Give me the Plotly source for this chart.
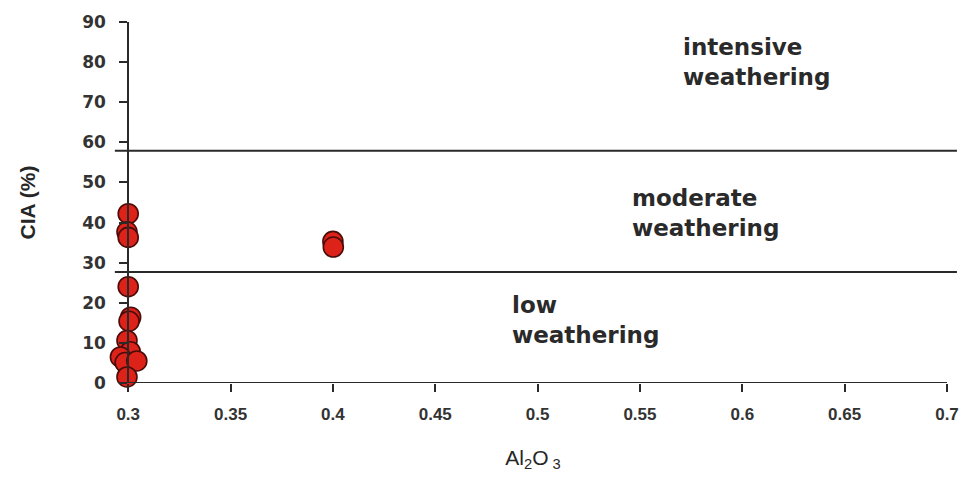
import plotly.graph_objects as go

# ---- data ----
al2o3 = [0.3000, 0.2994, 0.3000, 0.3000, 0.3012, 0.3004, 0.2994, 0.3010,
         0.2962, 0.2985, 0.3042, 0.2994, 0.4000, 0.4002]
cia = [42.2, 37.7, 36.3, 24.0, 16.4, 15.4, 10.6, 7.8,
       6.5, 5.1, 5.5, 1.5, 35.3, 33.9]

boundaries = [57.9, 27.7]
zone_labels = ["intensive<br>weathering", "moderate<br>weathering", "low<br>weathering"]
zone_x = [0.570, 0.545, 0.4865]
zone_y = [80.0, 42.3, 15.6]

x_ticks = [0.3, 0.35, 0.4, 0.45, 0.5, 0.55, 0.6, 0.65, 0.7]
x_ticktext = ["0.3", "0.35", "0.4", "0.45", "0.5", "0.55", "0.6", "0.65", "0.7"]
y_ticks = [0, 10, 20, 30, 40, 50, 60, 70, 80, 90]
x_axis_start = 0.3
x_range = [0.2955, 0.7]   # small left pad so markers sitting on the axis stay visible
y_range = [0, 90]

AX = "#2a2a2a"
yaxis_pos = (x_axis_start - x_range[0]) / (x_range[1] - x_range[0])

fig = go.Figure()
fig.add_trace(go.Scatter(
    x=al2o3, y=cia, mode="markers", cliponaxis=False,
    marker=dict(size=20, color="#dc2219", line=dict(color="#4a0c08", width=1.6)),
    showlegend=False,
))

# x axis baseline starting at the y axis
fig.add_shape(type="line", xref="x", yref="y", x0=x_axis_start, x1=x_range[1],
              y0=y_range[0], y1=y_range[0], line=dict(color=AX, width=2), layer="above")

for b in boundaries:
    fig.add_shape(type="line", xref="paper", yref="y",
                  x0=-0.005, x1=1.012, y0=b, y1=b,
                  line=dict(color=AX, width=2), layer="above")

for t, xx, yy in zip(zone_labels, zone_x, zone_y):
    fig.add_annotation(x=xx, y=yy, xref="x", yref="y", text=t, showarrow=False,
                       xanchor="left", yanchor="middle", align="left",
                       font=dict(family="DejaVu Sans", size=23, color="#2a2a2a", weight="bold"))

fig.update_layout(
    width=971, height=477,
    margin=dict(l=119, r=21, t=22, b=91),
    paper_bgcolor="white", plot_bgcolor="white",
    xaxis=dict(range=x_range, tickvals=x_ticks, ticktext=x_ticktext,
               showline=False,
               ticks="outside", ticklen=8, tickwidth=2, tickcolor=AX,
               showgrid=False, zeroline=False, ticklabelstandoff=8,
               tickfont=dict(family="Liberation Sans", size=17, color="#333", weight="bold"),
               title=dict(text="Al<sub>2</sub>O<sub> 3</sub>", standoff=26,
                          font=dict(family="Liberation Sans", size=21, color="#262626"))),
    yaxis=dict(range=y_range, tickvals=y_ticks, anchor="free", position=yaxis_pos,
               showline=True, linecolor=AX, linewidth=2,
               ticks="outside", ticklen=8, tickwidth=2, tickcolor=AX,
               showgrid=False, zeroline=False, ticklabelstandoff=10,
               tickfont=dict(family="DejaVu Sans", size=17, color="#333", weight="bold"),
               title=dict(text="CIA (%)", standoff=40,
                          font=dict(family="Liberation Sans", size=21, color="#262626",
                                    weight="bold"))),
)

fig.write_html("out.html")
